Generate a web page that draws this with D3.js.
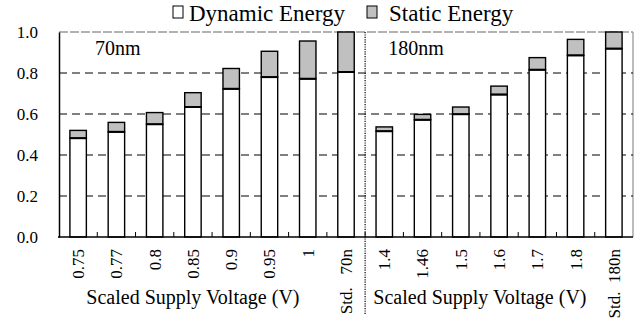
<!DOCTYPE html>
<html>
<head>
  <meta charset="utf-8">
  <script src="https://d3js.org/d3.v7.min.js"></script>
</head>
<body style="margin:0">
<div id="chart"></div>
<script>
  // categories (x labels) for both technology groups
  var volts70 = ["0.75", "0.77", "0.8", "0.85", "0.9", "0.95", "1", "Std.   70n"];
  var volts180 = ["1.4", "1.46", "1.5", "1.6", "1.7", "1.8", "Std.  180n"];
  var dynamic70 = [0.482, 0.513, 0.550, 0.634, 0.723, 0.780, 0.772, 0.805];
  var static70 = [0.038, 0.046, 0.057, 0.070, 0.099, 0.126, 0.184, 0.195];
  var dynamic180 = [0.516, 0.572, 0.599, 0.695, 0.816, 0.886, 0.919];
  var static180 = [0.021, 0.026, 0.035, 0.041, 0.059, 0.078, 0.081];
  var yTicks = [0.0, 0.2, 0.4, 0.6, 0.8, 1.0];
  var groupLabels = ["70nm", "180nm"];
  var axisTitle = "Scaled Supply Voltage (V)";
  var legendNames = ["Dynamic Energy", "Static Energy"];

  var W = 641, H = 326;
  var margin = {top: 32, right: 8, bottom: 89, left: 59};
  var x0 = margin.left, x1 = W - margin.right, y0 = H - margin.bottom, y1 = margin.top;

  var dados = [];
  volts70.forEach(function(v, i) { dados.push({cat: v, dyn: dynamic70[i], sta: static70[i]}); });
  volts180.forEach(function(v, i) { dados.push({cat: v, dyn: dynamic180[i], sta: static180[i]}); });
  var cats = dados.map(d => d.cat);

  var svg = d3.select("#chart").append("svg").attr("width", W).attr("height", H);

  // serif text helper
  function serif(sel, size) {
    return sel.attr("font-family", "Liberation Serif")
      .style("font-family", "'Liberation Serif'")
      .attr("font-size", size).attr("fill", "#000");
  }

  var x = d3.scaleBand().domain(cats).range([x0, x1]).paddingInner(0.57).paddingOuter(0.285);
  var xb = d3.scaleBand().domain(cats).range([x0, x1]); // band boundaries, for ticks
  var y = d3.scaleLinear().domain([0, 1]).range([y0, y1]);

  // plot frame (grey top and right)
  svg.append("line").attr("x1", x0).attr("x2", x1).attr("y1", y(1)).attr("y2", y(1))
    .attr("stroke", "#999").attr("stroke-width", 1.3).attr("stroke-dasharray", "9,2");
  svg.append("line").attr("x1", x1).attr("x2", x1).attr("y1", y(1)).attr("y2", y(0))
    .attr("stroke", "#999").attr("stroke-width", 1.3);

  // dashed grid
  svg.selectAll(".grid").data(yTicks.filter(t => t > 0 && t < 1)).enter().append("line")
    .attr("x1", x0).attr("x2", x1).attr("y1", d => y(d)).attr("y2", d => y(d))
    .attr("stroke", "#000").attr("stroke-width", 1).attr("stroke-dasharray", "8,5");

  // bars
  var bars = svg.selectAll(".bar").data(dados).enter().append("g");
  bars.append("rect")
    .attr("x", d => x(d.cat)).attr("width", x.bandwidth())
    .attr("y", d => y(d.dyn)).attr("height", d => y(0) - y(d.dyn))
    .attr("fill", "#fff").attr("stroke", "#000").attr("stroke-width", 1.4);
  bars.append("rect")
    .attr("x", d => x(d.cat)).attr("width", x.bandwidth())
    .attr("y", d => y(d.dyn + d.sta)).attr("height", d => y(d.dyn) - y(d.dyn + d.sta))
    .attr("fill", "#c0c0c0").attr("stroke", "#000").attr("stroke-width", 1.4);
  bars.append("line")
    .attr("x1", d => x(d.cat)).attr("x2", d => x(d.cat) + x.bandwidth())
    .attr("y1", d => y(d.dyn)).attr("y2", d => y(d.dyn))
    .attr("stroke", "#000").attr("stroke-width", 2);

  // y axis
  var yAxis = svg.append("g").attr("transform", "translate(" + x0 + ",0)")
    .call(d3.axisLeft(y).tickValues(yTicks).tickSize(0).tickPadding(21).tickFormat(d3.format(".1f")));
  serif(yAxis, 17);
  yAxis.select(".domain").attr("stroke", "#000").attr("stroke-width", 1.5);
  serif(yAxis.selectAll("text"), 17);

  // x axis: line + inner ticks at band boundaries
  svg.append("line").attr("x1", x0 - 1).attr("x2", x1).attr("y1", y0).attr("y2", y0)
    .attr("stroke", "#000").attr("stroke-width", 1.5);
  svg.selectAll(".xtick").data(cats.slice(1)).enter().append("line")
    .attr("x1", d => xb(d)).attr("x2", d => xb(d)).attr("y1", y0).attr("y2", y0 - 5)
    .attr("stroke", "#000").attr("stroke-width", 1);

  // x labels, rotated
  serif(svg.selectAll(".xlab").data(cats).enter().append("text"), 17)
    .attr("transform", d => "translate(" + (x(d) + x.bandwidth() / 2) + "," + (y0 + 12) + ") rotate(-90)")
    .attr("dy", "0.35em").attr("text-anchor", "end")
    .attr("xml:space", "preserve")
    .text(d => d);

  // axis titles under each group (without the Std. bar)
  [volts70.slice(0, -1), volts180.slice(0, -1)].forEach(function(g) {
    var cx = (xb(g[0]) + xb(g[g.length - 1]) + xb.bandwidth()) / 2;
    serif(svg.append("text"), 20).attr("x", cx).attr("y", 304).attr("text-anchor", "middle")
      .text(axisTitle);
  });

  // group separator
  var sep = xb(volts180[0]);
  svg.append("line").attr("x1", sep).attr("x2", sep).attr("y1", y1).attr("y2", 314)
    .attr("stroke", "#000").attr("stroke-width", 1.2).attr("stroke-dasharray", "1.2,1.2");

  // group labels
  serif(svg.append("text"), 20).attr("x", xb(volts70[0]) + 36).attr("y", 55).text(groupLabels[0]);
  serif(svg.append("text"), 20).attr("x", xb(volts180[0]) + 23).attr("y", 55).text(groupLabels[1]);

  // legend
  var legBox = [173, 367], legText = [189, 389], legFill = ["#fff", "#c0c0c0"];
  legendNames.forEach(function(n, i) {
    svg.append("rect").attr("x", legBox[i]).attr("y", 6).attr("width", 10).attr("height", 12)
      .attr("fill", legFill[i]).attr("stroke", "#000").attr("stroke-width", 1);
    serif(svg.append("text"), 23).attr("x", legText[i]).attr("y", 21).text(n);
  });
</script>
</body>
</html>
